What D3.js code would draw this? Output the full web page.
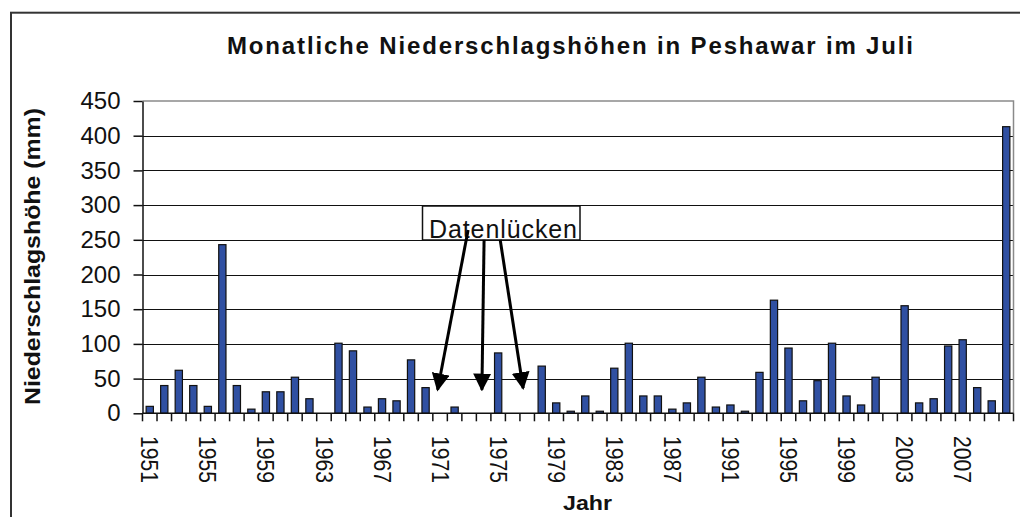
<!DOCTYPE html>
<html>
<head>
<meta charset="utf-8">
<script src="https://cdn.jsdelivr.net/npm/d3@7"></script>
<style>
  html, body { margin: 0; padding: 0; background: #fff; }
  svg { display: block; }
  text { font-family: "Liberation Sans", Arial, sans-serif; fill: #111; }
</style>
</head>
<body>
<svg id="chart" width="1020" height="517"></svg>
<script>
// July precipitation totals, Peshawar (mm); null = no data for that year
const years = d3.range(1951, 2011);
const rainfall = [
  10, 40, 62, 40, 10, 243, 40, 6, 31, 31,
  52, 21, null, 101, 90, 9, 21, 18, 77, 37,
  null, 9, null, null, 87, null, null, 68, 15, 3,
  25, 3, 65, 101, 25, 25, 6, 15, 52, 9,
  12, 3, 59, 163, 94, 18, 47, 101, 25, 12,
  52, null, 155, 15, 21, 97, 106, 37, 18, 413
];
const yTicks = [0, 50, 100, 150, 200, 250, 300, 350, 400, 450];
const xTickLabels = years.filter((y, i) => i % 4 === 0);

const titleText = "Monatliche Niederschlagshöhen in Peshawar im Juli";
const yTitleText = "Niederschlagshöhe (mm)";
const xTitleText = "Jahr";
const noteText = "Datenlücken";
// arrows from the note towards the missing years: [year position, mm]
const noteArrows = [
  { from: [22.43, 264], to: [20.33, 34] },
  { from: [23.53, 250], to: [23.38, 34] },
  { from: [24.64, 250], to: [26.22, 36] }
];

const plot = { left: 142.5, right: 1013.5, top: 101, bottom: 413.3 };
const svg = d3.select("#chart");

// outer chart frame
svg.append("rect")
  .attr("x", 11).attr("y", 12.7)
  .attr("width", 1100).attr("height", 600)
  .attr("fill", "none").attr("stroke", "#333").attr("stroke-width", 2);

const x = d3.scaleBand()
  .domain(years)
  .range([plot.left, plot.right])
  .paddingInner(0.5)
  .paddingOuter(0.25);

const y = d3.scaleLinear().domain([0, 450]).range([plot.bottom, plot.top]);
const xPos = d3.scaleLinear().domain([0, years.length]).range([plot.left, plot.right]);

// horizontal gridlines
svg.append("g")
  .selectAll("line")
  .data(yTicks.filter(t => t > 0 && t < 450))
  .join("line")
  .attr("x1", plot.left).attr("x2", plot.right)
  .attr("y1", d => Math.round(y(d)) + 0.5).attr("y2", d => Math.round(y(d)) + 0.5)
  .attr("stroke", "#111").attr("stroke-width", 1.2);

// plot area border (top and right)
svg.append("path")
  .attr("d", `M${plot.left},${plot.top}H${plot.right}V${plot.bottom}`)
  .attr("fill", "none").attr("stroke", "#8a8a8a").attr("stroke-width", 1.5);

// bars
svg.append("g")
  .selectAll("rect")
  .data(years.map((yr, i) => ({ yr, v: rainfall[i] })).filter(d => d.v !== null))
  .join("rect")
  .attr("x", d => x(d.yr))
  .attr("width", x.bandwidth())
  .attr("y", d => y(d.v))
  .attr("height", d => y(0) - y(d.v))
  .attr("fill", "#3050a2")
  .attr("stroke", "#111")
  .attr("stroke-width", 1.2);

// y axis
const yAxis = svg.append("g")
  .attr("transform", `translate(${plot.left},0)`)
  .call(d3.axisLeft(y).tickValues(yTicks).tickSize(9).tickPadding(13).tickSizeOuter(0));
yAxis.select(".domain").attr("stroke", "#111").attr("stroke-width", 1.5);
yAxis.selectAll(".tick line").attr("stroke", "#111").attr("stroke-width", 1.5);
yAxis.selectAll(".tick text")
  .attr("font-size", 24)
  .attr("font-family", "'Liberation Sans', Arial, sans-serif")
  .attr("fill", "#111");

// x axis line and boundary ticks
svg.append("line")
  .attr("x1", plot.left).attr("x2", plot.right)
  .attr("y1", plot.bottom).attr("y2", plot.bottom)
  .attr("stroke", "#111").attr("stroke-width", 1.5);

const boundaries = years.map(yr => x(yr) - (x.step() - x.bandwidth()) / 2).concat([plot.right]);
svg.append("g")
  .selectAll("line")
  .data(boundaries)
  .join("line")
  .attr("x1", d => d).attr("x2", d => d)
  .attr("y1", plot.bottom).attr("y2", plot.bottom + 8)
  .attr("stroke", "#111").attr("stroke-width", 1.5);

// rotated year labels
svg.append("g")
  .selectAll("text")
  .data(xTickLabels)
  .join("text")
  .attr("transform", d => `translate(${x(d) + x.bandwidth() / 2},436) rotate(90)`)
  .attr("dy", "0.35em")
  .attr("font-size", 24)
  .attr("textLength", 47)
  .attr("lengthAdjust", "spacingAndGlyphs")
  .text(d => d);

// title
svg.append("text")
  .attr("x", 227).attr("y", 54)
  .attr("font-size", 24).attr("font-weight", "bold")
  .attr("textLength", 686).attr("lengthAdjust", "spacing")
  .text(titleText);

// y axis title
svg.append("text")
  .attr("transform", "translate(32,256.5) rotate(-90)")
  .attr("text-anchor", "middle")
  .attr("dy", "0.35em")
  .attr("font-size", 22).attr("font-weight", "bold")
  .attr("textLength", 297).attr("lengthAdjust", "spacingAndGlyphs")
  .text(yTitleText);

// x axis title
svg.append("text")
  .attr("x", 563).attr("y", 510)
  .attr("font-size", 21).attr("font-weight", "bold")
  .attr("textLength", 49).attr("lengthAdjust", "spacingAndGlyphs")
  .text(xTitleText);

// note box
const note = svg.append("g");
note.append("rect")
  .attr("x", 422.5).attr("y", 206)
  .attr("width", 157.5).attr("height", 34)
  .attr("fill", "#fff").attr("stroke", "#111").attr("stroke-width", 1.5);
note.append("text")
  .attr("x", 429).attr("y", 238)
  .attr("font-size", 25)
  .attr("textLength", 148).attr("lengthAdjust", "spacing")
  .text(noteText);

// arrow head
svg.append("defs").append("marker")
  .attr("id", "head")
  .attr("viewBox", "0 0 10 10")
  .attr("refX", 9).attr("refY", 5)
  .attr("markerWidth", 6).attr("markerHeight", 6)
  .attr("markerUnits", "strokeWidth")
  .attr("orient", "auto")
  .append("path")
  .attr("d", "M0,0 L10,5 L0,10 Z")
  .attr("fill", "#000");

svg.append("g")
  .selectAll("line")
  .data(noteArrows)
  .join("line")
  .attr("x1", d => xPos(d.from[0])).attr("y1", d => y(d.from[1]))
  .attr("x2", d => xPos(d.to[0])).attr("y2", d => y(d.to[1]))
  .attr("stroke", "#000").attr("stroke-width", 3)
  .attr("marker-end", "url(#head)");
</script>
</body>
</html>
